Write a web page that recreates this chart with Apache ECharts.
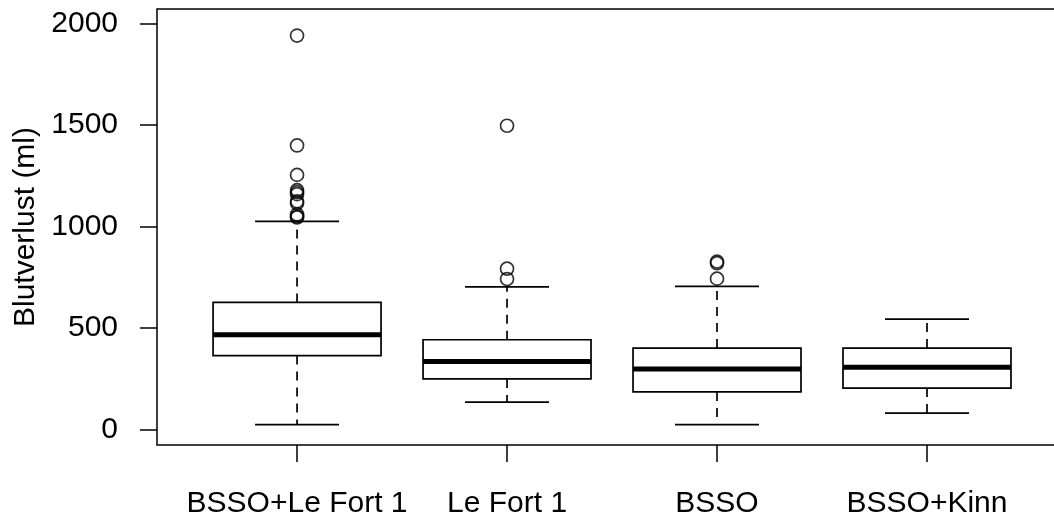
<!DOCTYPE html>
<html>
<head>
<meta charset="utf-8">
<script src="https://cdn.jsdelivr.net/npm/echarts@6/dist/echarts.min.js"></script>
<style>html,body{margin:0;padding:0;background:#fff;}#c{width:1054px;height:517px;}</style>
</head>
<body>
<div id="c"></div>
<script>
var categories = ['BSSO+Le Fort 1', 'Le Fort 1', 'BSSO', 'BSSO+Kinn'];
var lowerWhisker = [25, 136, 25, 82];
var q1 = [365, 250, 186, 205];
var median = [468, 336, 299, 307];
var q3 = [627, 443, 402, 402];
var upperWhisker = [1026, 703, 706, 545];
var outliers1 = [1941, 1400, 1255, 1180, 1170, 1160, 1125, 1115, 1060, 1050, 1045];
var outliers2 = [1497, 793, 742];
var outliers3 = [828, 820, 744];
var outliers4 = [];
var yTicks = [0, 500, 1000, 1500, 2000];

var allOutliers = [outliers1, outliers2, outliers3, outliers4];
var boxData = categories.map(function (c, i) {
  return [i + 1, lowerWhisker[i], q1[i], median[i], q3[i], upperWhisker[i]];
});
var outlierData = [];
allOutliers.forEach(function (arr, i) {
  arr.forEach(function (v) { outlierData.push([i + 1, v]); });
});

var FONT = '"Liberation Sans", Arial, sans-serif';
var chart = echarts.init(document.getElementById('c'), null, {renderer: 'canvas'});

function renderBox(params, api) {
  var x = api.value(0);
  var lw = api.value(1), a = api.value(2), m = api.value(3), b = api.value(4), uw = api.value(5);
  var halfBox = 0.4, halfCap = 0.2;
  var pL = api.coord([x - halfBox, b]);
  var pR = api.coord([x + halfBox, a]);
  var cL = api.coord([x - halfCap, 0])[0];
  var cR = api.coord([x + halfCap, 0])[0];
  var xc = api.coord([x, 0])[0];
  var yLw = api.coord([x, lw])[1], yQ1 = api.coord([x, a])[1], yMed = api.coord([x, m])[1];
  var yQ3 = api.coord([x, b])[1], yUw = api.coord([x, uw])[1];
  var dashStyle = {stroke: '#000', lineWidth: 1.7, lineDash: [9, 7]};
  var solid = {stroke: '#000', lineWidth: 1.7};
  return {
    type: 'group',
    children: [
      {type: 'line', shape: {x1: xc, y1: yQ3, x2: xc, y2: yUw}, style: dashStyle},
      {type: 'line', shape: {x1: xc, y1: yQ1, x2: xc, y2: yLw}, style: dashStyle},
      {type: 'line', shape: {x1: cL, y1: yUw, x2: cR, y2: yUw}, style: solid},
      {type: 'line', shape: {x1: cL, y1: yLw, x2: cR, y2: yLw}, style: solid},
      {type: 'rect', shape: {x: pL[0], y: pL[1], width: pR[0] - pL[0], height: pR[1] - pL[1]},
        style: {fill: '#fff', stroke: '#000', lineWidth: 1.7}},
      {type: 'line', shape: {x1: pL[0], y1: yMed, x2: pR[0], y2: yMed}, style: {stroke: '#000', lineWidth: 5}}
    ]
  };
}

var option = {
  backgroundColor: '#fff',
  animation: false,
  grid: {left: 157, top: 9, width: 909, height: 436, show: true, borderColor: '#000', borderWidth: 1.5,
    backgroundColor: 'transparent', containLabel: false, outerBoundsMode: 'none'},
  xAxis: {
    type: 'value', min: 0.333, max: 4.662,
    axisLine: {show: false, onZero: false},
    splitLine: {show: false},
    axisTick: {show: true, customValues: [1, 2, 3, 4], length: 17, lineStyle: {color: '#000', width: 1.5}},
    axisLabel: {customValues: [1, 2, 3, 4], formatter: function (v) { return categories[Math.round(v) - 1]; },
      fontSize: 30, color: '#000', fontFamily: FONT, margin: 44}
  },
  yAxis: {
    type: 'value', min: -75.4, max: 2072,
    axisLine: {show: false, onZero: false},
    splitLine: {show: false},
    axisTick: {show: true, customValues: yTicks, length: 17, lineStyle: {color: '#000', width: 1.5}},
    axisLabel: {customValues: yTicks, formatter: function (v) { return String(v); },
      fontSize: 30, color: '#000', fontFamily: FONT, margin: 39},
    name: 'Blutverlust (ml)', nameLocation: 'middle', nameGap: 104,
    nameTextStyle: {fontSize: 30, color: '#000', fontFamily: FONT}
  },
  series: [
    {type: 'custom', renderItem: renderBox, data: boxData, encode: {x: 0, y: [1, 2, 3, 4, 5]}, z: 2},
    {type: 'scatter', data: outlierData, symbol: 'circle', symbolSize: 13,
      itemStyle: {color: 'rgba(0,0,0,0)', borderColor: '#000', borderWidth: 1.7}, z: 3}
  ]
};
chart.setOption(option);
</script>
</body>
</html>
